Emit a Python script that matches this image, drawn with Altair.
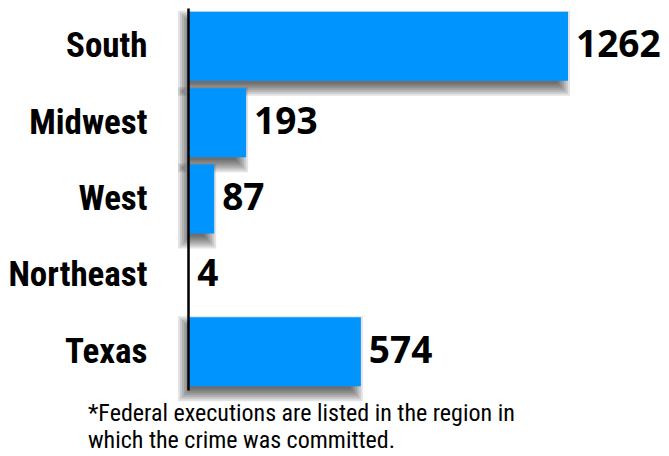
import altair as alt
import pandas as pd

regions = ["South", "Midwest", "West", "Northeast", "Texas"]
executions = [1262, 193, 87, 4, 574]
footnote = ["*Federal executions are listed in the region in",
            "which the crime was committed."]

df = pd.DataFrame({"region": regions, "n": executions})

W, H = 380, 382
BAR = 69
LABEL_FONT = "Roboto Condensed, Liberation Sans Narrow, sans-serif"

y_enc = alt.Y("region:N", sort=regions,
              scale=alt.Scale(paddingInner=0.095, paddingOuter=0.05),
              axis=alt.Axis(title=None, ticks=False, grid=False,
                            domainColor="black", domainWidth=2.5,
                            labelFont=LABEL_FONT, labelFontWeight="bold",
                            labelFontSize=35, labelColor="black",
                            labelPadding=41, labelLimit=400, zindex=1))
x_scale = alt.Scale(domain=[0, 1262], nice=False, zero=True)

base = alt.Chart(df)

shadow_layers = []
for e in [-4, -2, 0, 2, 4, 6, 8]:
    shadow_layers.append(
        base.transform_filter("datum.n > 10").mark_bar(
            color="black", opacity=0.11, size=BAR + 2 * e,
            xOffset=e - 6, x2Offset=-e - 2, yOffset=7
        ).encode(
            x=alt.X("n:Q", scale=x_scale, axis=None, stack=None),
            x2=alt.datum(0),
            y=y_enc,
        )
    )

bars = base.mark_bar(color="#0094FF", size=BAR).encode(
    x=alt.X("n:Q", scale=x_scale, axis=None, stack=None),
    x2=alt.datum(0),
    y=y_enc,
)

labels = base.mark_text(
    align="left", baseline="middle", dx=8,
    font="Open Sans, Lato, sans-serif", fontWeight="bold", fontSize=37, color="black"
).encode(
    x=alt.X("n:Q", scale=x_scale, axis=None),
    y=y_enc,
    text="n:Q",
)

chart = alt.layer(*shadow_layers, bars, labels).properties(
    width=W, height=H,
    autosize=alt.AutoSizeParams(type="none"),
    padding={"left": 180, "top": 0, "right": 653 - 180 - W, "bottom": 64},
    title=alt.TitleParams(
        text=footnote, orient="bottom", anchor="start", frame="group",
        baseline="alphabetic", offset=20, dx=-100, lineHeight=27,
        font=LABEL_FONT, fontSize=24, fontWeight="normal", color="black",
    ),
).configure_view(stroke=None)

chart.save("out.html", embed_options={"renderer": "svg", "actions": False})
